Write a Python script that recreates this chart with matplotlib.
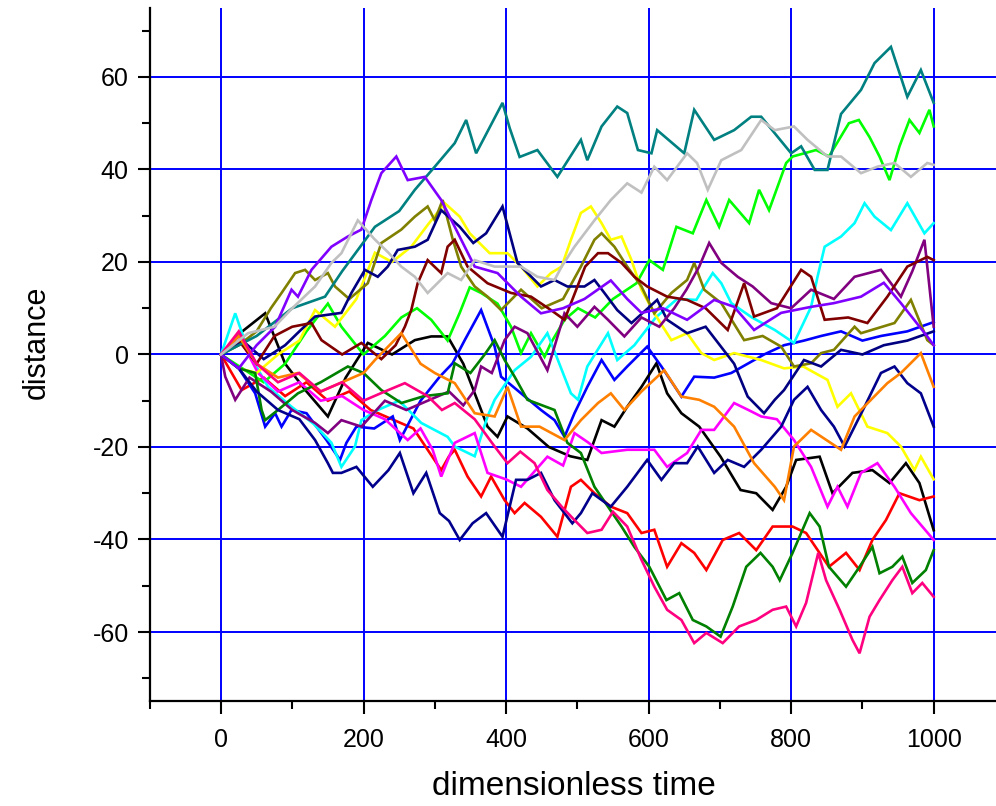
import matplotlib
matplotlib.use("Agg")
import matplotlib.pyplot as plt
from matplotlib.ticker import MultipleLocator

# ---- data (time, distance) ----
black_t = [0, 30, 62, 90, 120, 150, 175, 206, 240, 272, 295, 318, 340, 360, 374, 388, 402, 430, 460, 490, 514, 534, 552, 570, 590, 611, 626, 646, 671, 701, 729, 751, 774, 793, 807, 840, 858, 886, 914, 938, 961, 980, 1000]
black_v = [0, 5, 8.9, -2, -8, -13.4, -5, 2.5, 0, 3.1, 3.9, 3.9, -2, -10, -15.6, -17.8, -13.4, -16, -20, -22, -22.8, -14.2, -15.6, -11.3, -7, -1.9, -8.4, -12.7, -15.6, -22.1, -29.3, -30, -33.6, -28.6, -22.8, -22.1, -30, -25.6, -25, -27.8, -23.5, -27.8, -38]

red_t = [0, 29, 60, 90, 120, 150, 180, 210, 240, 270, 290, 309, 320, 328, 346, 365, 379, 398, 412, 426, 449, 472, 491, 505, 524, 547, 570, 590, 608, 626, 646, 664, 681, 704, 727, 751, 774, 802, 821, 853, 877, 896, 914, 933, 952, 980, 1000]
red_v = [0, -7.7, -5, -9, -6, -10, -8, -12, -14, -16, -20.6, -25, -22, -20.6, -26.4, -30.7, -26.4, -31.5, -34.3, -32.1, -35.1, -39.4, -28.6, -27.1, -30, -32.9, -34.3, -38.6, -37.9, -45.9, -40.8, -42.9, -46.6, -40.1, -38.6, -42.3, -37.2, -37.2, -38.6, -45.9, -42.9, -46.6, -40.1, -35.8, -30, -31.5, -30.7]

green_t = [0, 30, 60, 90, 120, 150, 169, 200, 230, 253, 275, 295, 318, 335, 349, 365, 388, 407, 421, 435, 454, 463, 482, 501, 525, 550, 583, 601, 620, 639, 662, 681, 699, 713, 741, 755, 769, 793, 802, 835, 853, 881, 895, 910, 924, 938, 952, 966, 980, 994, 1000]
green_v = [0, -3, -6, -2, 5, 11, 6, 0, 4, 8, 10, 7.5, 3, 9, 14.5, 13.3, 11, 6, 0.3, 4.6, -0.5, 2.5, 7.5, 10, 8, 12, 15.4, 20.4, 18.3, 27.6, 26.2, 33.4, 27.6, 33.4, 28.4, 35.6, 31.2, 41.4, 42.8, 44.2, 42.8, 50, 50.7, 47, 42.8, 37.7, 45, 50.7, 47.9, 52.9, 49.3]

blue_t = [0, 25, 48, 62, 76, 85, 99, 120, 148, 167, 176, 190, 215, 241, 251, 280, 307, 325, 342, 365, 384, 393, 421, 449, 468, 482, 496, 514, 534, 552, 570, 598, 618, 646, 664, 692, 716, 739, 762, 790, 818, 842, 870, 900, 926, 963, 1000]
blue_v = [0, -3, -8.4, -15.6, -12.7, -15.6, -12, -12.7, -18.5, -22.8, -19.1, -15.6, -16, -13.4, -18.5, -10, -4.8, -1.9, 3.1, 9.6, 1.7, -4.8, -8.4, -12, -14.2, -17.8, -12.7, -7, -1.2, -5.5, -2.6, 1.7, -2.6, -9.1, -4.8, -5, -4, -2, 0, 2, 3, 4, 5, 3, 4, 5, 7]

cyan_t = [0, 20, 40, 66, 99, 130, 155, 169, 188, 197, 220, 250, 281, 318, 328, 356, 374, 384, 412, 435, 458, 491, 501, 514, 543, 556, 580, 610, 640, 667, 681, 690, 702, 716, 745, 777, 804, 828, 837, 847, 870, 889, 903, 917, 940, 963, 987, 1000]
cyan_v = [0, 8.9, 0, -7, -11.3, -15, -19.1, -24.3, -19.9, -14.2, -12, -10, -14.8, -17.8, -19.9, -22, -13.4, -9.8, -3.4, -0.5, 4.6, -8.4, -9.8, -2.6, 4.6, -1.2, 2, 8, 12, 11.8, 15.4, 17.6, 15.4, 11.1, 8, 5.3, 2.5, 10.3, 16.8, 23.3, 25.5, 28.4, 32.7, 29.8, 26.9, 32.7, 26.2, 28.4]

magenta_t = [0, 25, 52, 80, 110, 140, 170, 200, 230, 262, 280, 297, 309, 328, 356, 374, 400, 421, 458, 480, 496, 515, 534, 570, 608, 626, 654, 674, 692, 720, 740, 758, 780, 804, 828, 851, 865, 879, 898, 921, 945, 968, 1000]
magenta_v = [0, 4, -4, -8, -6, -10, -9, -12, -14, -18.5, -16, -20.6, -26.4, -19.1, -17, -25.6, -27, -28.6, -22.1, -24, -17, -19, -21.3, -20.6, -20.6, -24.3, -21.3, -16.3, -16.3, -10.5, -12, -13.4, -14, -18.5, -24.3, -32.9, -28.6, -32.9, -25.6, -23.5, -28.6, -34.3, -40.1]

yellow_t = [0, 25, 50, 80, 110, 132, 160, 190, 216, 240, 267, 290, 314, 335, 349, 377, 402, 421, 444, 463, 478, 491, 505, 519, 534, 547, 562, 576, 590, 608, 632, 654, 674, 692, 720, 758, 790, 817, 851, 865, 884, 907, 935, 954, 973, 982, 1000]
yellow_v = [0, -3, -4, 0, 3, 9.6, 6, 12, 22, 20, 23.3, 28, 32.7, 29.8, 26.2, 21.9, 21.9, 19, 14.7, 17.6, 19, 24.8, 30.6, 32, 28.4, 24.8, 25.5, 20.4, 14, 8.9, 3.1, 4.6, 0.3, -1.2, 0.3, -1.2, -3, -2.6, -5.5, -11.3, -8.4, -15.6, -17, -19.9, -25, -22.1, -27]

olive_t = [0, 25, 50, 70, 85, 104, 118, 132, 150, 160, 180, 206, 225, 253, 272, 290, 300, 311, 325, 337, 356, 374, 393, 421, 450, 480, 505, 524, 534, 552, 570, 590, 608, 632, 654, 664, 678, 702, 734, 760, 786, 804, 828, 842, 860, 889, 898, 945, 968, 991, 1000]
olive_v = [0, 2, 5, 10, 13.3, 17.6, 18.3, 16.1, 17.6, 14.7, 12, 15.4, 24.1, 27, 29.8, 32, 29, 33.4, 25, 19, 14.7, 12.5, 9.6, 14, 10, 12, 19, 24.8, 26.2, 23.3, 19, 14.7, 8.9, 13.3, 16.1, 19.8, 14, 11.1, 3.1, 4, 1.7, -2.6, -1.9, 0.3, 1, 6, 4.6, 6.8, 11.8, 3.1, 2]

navy_t = [0, 30, 60, 90, 110, 132, 169, 183, 202, 220, 234, 248, 272, 290, 309, 335, 354, 372, 395, 416, 449, 468, 486, 510, 524, 538, 556, 576, 612, 626, 654, 680, 700, 720, 739, 762, 777, 790, 818, 842, 870, 900, 930, 963, 1000]
navy_v = [0, 3, -1, 2, 5, 8.2, 9, 13.3, 18.3, 16.8, 19, 22.6, 23.3, 24.8, 31.2, 27.6, 24.1, 26.2, 32, 19.8, 14.7, 16.1, 14.7, 14.7, 16.1, 13.3, 9.6, 6.8, 11.8, 7.5, 4.6, 6, 2, -2, -9.1, -12.7, -9.8, -7.7, -1.2, -2.6, 1, 0, 2, 3, 5]

purple_t = [0, 6, 20, 40, 70, 100, 132, 150, 169, 197, 230, 260, 290, 320, 340, 356, 365, 380, 398, 412, 430, 458, 482, 500, 524, 543, 566, 590, 615, 636, 653, 671, 685, 702, 725, 746, 772, 800, 828, 860, 889, 926, 954, 970, 987, 1000]
purple_v = [0, -4.8, -9.8, -5, -8, -12, -14.8, -17, -14.2, -15.6, -10, -12, -10, -8, -11, -7.7, -2.6, -4, 3.1, 6, 4.6, -3.4, 8.9, 6, 10.3, 7.5, 3.9, 8, 6, 10, 14, 19, 24.1, 19.8, 16.8, 14.7, 11.1, 10, 14, 12, 16.8, 18.3, 12.5, 18, 24.8, 6]

wine_t = [0, 25, 50, 75, 100, 127, 141, 170, 197, 225, 245, 258, 267, 276, 290, 309, 318, 328, 346, 374, 407, 435, 463, 482, 511, 529, 543, 562, 580, 598, 626, 654, 680, 711, 734, 748, 780, 814, 828, 847, 880, 907, 935, 963, 991, 1000]
wine_v = [0, 3, -2, 4, 6, 6.8, 3.1, 0, 2.5, -1, 2, 6, 9.6, 15.4, 20.4, 17.6, 23.3, 24.8, 19, 15.4, 13.3, 12.5, 9.6, 7.5, 19, 21.9, 21.9, 19.8, 16.8, 14.7, 12.5, 11.8, 10, 5.3, 15.4, 8.2, 10, 18.3, 16.8, 7.5, 8, 6.8, 12.5, 19, 21.1, 20.4]

dgreen_t = [0, 25, 48, 57, 62, 80, 108, 140, 178, 200, 225, 253, 285, 318, 328, 350, 370, 384, 398, 412, 430, 468, 486, 505, 524, 543, 562, 580, 601, 625, 643, 662, 681, 701, 718, 737, 757, 774, 784, 802, 826, 840, 853, 877, 896, 914, 924, 942, 956, 970, 989, 1000]
dgreen_v = [0, -3, -4, -12, -14.2, -12, -8.4, -6, -2.6, -4, -7.7, -10.5, -9, -8.4, -1.9, -4, 0, 3.1, -1.2, -4.8, -9.8, -12, -19.1, -21.3, -28.6, -32.9, -37.2, -41.6, -45.9, -53.1, -51.6, -57.4, -58.8, -61, -54.5, -45.9, -42.9, -45.9, -48.8, -42.9, -34.3, -37.2, -45.9, -50.2, -45.9, -41.6, -47.3, -45.9, -43.7, -49.4, -46.6, -42.3]

teal_t = [0, 50, 100, 146, 170, 216, 250, 272, 300, 328, 344, 358, 395, 405, 419, 444, 472, 505, 514, 534, 556, 570, 585, 604, 612, 650, 664, 692, 720, 744, 758, 800, 814, 833, 851, 870, 898, 917, 940, 963, 982, 1000]
teal_v = [0, 4, 10, 12.5, 18, 27.6, 31, 35.6, 40.6, 45.7, 50.7, 43.5, 54.4, 49, 42.7, 44.2, 38.4, 46.4, 42, 49.3, 53.6, 52.2, 44.2, 43.5, 48.5, 43.5, 52.9, 46.4, 48.5, 51.4, 51.4, 43.5, 45, 39.9, 39.9, 52, 57.2, 63, 66.5, 55.7, 61.5, 54.4]

royal_t = [0, 25, 50, 80, 110, 132, 150, 157, 169, 190, 213, 235, 251, 270, 288, 307, 320, 335, 353, 372, 395, 414, 430, 449, 468, 493, 505, 521, 547, 570, 598, 618, 636, 654, 669, 692, 711, 734, 758, 786, 804, 823, 842, 860, 875, 889, 903, 926, 945, 963, 982, 1000]
royal_v = [0, -3, -8, -12, -14, -18.5, -23.5, -25.6, -25.6, -24.3, -28.6, -25, -21.3, -30, -25.6, -34.3, -36, -40.1, -36.5, -34.3, -39.4, -27.1, -27.1, -25.6, -31.5, -36.5, -34.3, -30, -32.9, -28.6, -22.8, -27.1, -23.5, -23.5, -19.9, -25.6, -22.8, -24.3, -20.6, -15.6, -9.8, -7, -12, -15.6, -19.9, -15.6, -11.3, -4, -2.6, -6.2, -8.4, -15.6]

orange_t = [0, 25, 50, 80, 108, 140, 170, 200, 216, 253, 280, 300, 328, 356, 384, 402, 421, 447, 482, 505, 529, 547, 566, 590, 622, 646, 671, 692, 720, 748, 777, 790, 804, 828, 870, 889, 935, 954, 982, 1000]
orange_v = [0, 4, -2, -5, -4, -8, -6, -4, -1.2, 4.6, -2, -4, -6.2, -12.7, -13.4, -7, -15.6, -15.6, -18.5, -14.2, -10.5, -8.4, -12, -8, -3.4, -9.1, -9.8, -11.3, -15.6, -23.5, -28.6, -31.5, -19.9, -16.3, -20.6, -13.4, -6.2, -4, 0.3, -7]

violet_t = [0, 25, 50, 76, 99, 108, 127, 155, 178, 197, 211, 225, 246, 262, 286, 309, 328, 356, 388, 421, 449, 480, 510, 547, 570, 590, 620, 654, 692, 720, 748, 786, 828, 860, 898, 930, 954, 991, 1000]
violet_v = [0, -3, 2, 6, 14, 12.5, 18.3, 23.3, 25.5, 27, 33.4, 39.2, 42.8, 37.7, 38.4, 33.4, 27.6, 19, 17.6, 12.5, 8.9, 10, 12, 16, 12, 9, 10, 7.5, 11.8, 10.3, 5.3, 9, 10.3, 11.1, 12.5, 15.5, 11.1, 3.9, 2]

pink_t = [0, 25, 50, 80, 110, 140, 170, 200, 230, 258, 290, 310, 328, 356, 384, 402, 420, 440, 458, 478, 496, 514, 534, 550, 570, 590, 608, 626, 646, 664, 681, 704, 727, 751, 774, 793, 807, 821, 838, 849, 868, 886, 896, 910, 924, 942, 956, 970, 984, 1000]
pink_v = [0, 5, -2, -6, -4, -8, -6, -10, -8, -6.2, -9, -12, -10.5, -14, -19.9, -23.5, -21, -23.5, -29.3, -32.9, -35.8, -38.6, -37.9, -34, -37.2, -44.4, -50.2, -55.2, -57.4, -62.4, -60.2, -62.4, -58.8, -57.4, -55.2, -54.5, -58.8, -53.7, -42.9, -48.8, -55.2, -61.7, -64.6, -56.7, -53.1, -48.8, -45.9, -51.6, -49.4, -52.4]

gray_t = [0, 38, 75, 100, 132, 155, 169, 192, 215, 235, 253, 272, 290, 318, 337, 356, 384, 421, 444, 468, 478, 496, 524, 547, 570, 590, 608, 626, 654, 668, 683, 702, 730, 758, 777, 804, 823, 851, 870, 898, 921, 945, 968, 991, 1000]
gray_v = [0, 4.6, 6, 10, 14.7, 19.8, 21.9, 29, 25, 22, 19, 16.8, 13.3, 17.6, 16.1, 20.4, 19, 19, 16.8, 16.1, 19, 23.3, 29, 33.4, 37, 35, 40.6, 37.7, 43.5, 41.4, 35.6, 42, 44.2, 50.7, 48.5, 49.3, 46.4, 42.8, 42.8, 39.2, 40.6, 41.4, 38.4, 41.4, 41]

series = [
    (black_t, black_v, "#000000"),
    (red_t, red_v, "#ff0000"),
    (green_t, green_v, "#00ff00"),
    (blue_t, blue_v, "#0000ff"),
    (cyan_t, cyan_v, "#00ffff"),
    (magenta_t, magenta_v, "#ff00ff"),
    (yellow_t, yellow_v, "#ffff00"),
    (olive_t, olive_v, "#808000"),
    (navy_t, navy_v, "#000080"),
    (purple_t, purple_v, "#800080"),
    (wine_t, wine_v, "#800000"),
    (dgreen_t, dgreen_v, "#008000"),
    (teal_t, teal_v, "#008080"),
    (royal_t, royal_v, "#00008c"),
    (orange_t, orange_v, "#ff8000"),
    (violet_t, violet_v, "#8000ff"),
    (pink_t, pink_v, "#ff0080"),
    (gray_t, gray_v, "#c0c0c0"),
]

x_ticks = [0, 200, 400, 600, 800, 1000]
y_ticks = [-60, -40, -20, 0, 20, 40, 60]

plt.rcParams["font.family"] = ["Liberation Sans", "DejaVu Sans"]
plt.rcParams["axes.unicode_minus"] = False

fig = plt.figure(figsize=(9.96, 8.06), dpi=100)
ax = fig.add_axes([0.1503, 0.1298, 0.8587, 0.8608])

for t, v, c in series:
    ax.plot(t, v, color=c, lw=1.9, solid_joinstyle="miter", zorder=3)

ax.set_xlim(-100, 1100)
ax.set_ylim(-75, 75)
ax.set_xticks(x_ticks)
ax.set_yticks(y_ticks)
ax.xaxis.set_minor_locator(MultipleLocator(100))
ax.yaxis.set_minor_locator(MultipleLocator(10))
ax.grid(True, which="major", color="#0000ff", lw=1.4, zorder=1)
ax.set_axisbelow(True)
for s in ["top", "right"]:
    ax.spines[s].set_visible(False)
for s in ["left", "bottom"]:
    ax.spines[s].set_linewidth(1.6)
ax.tick_params(which="major", direction="out", length=9, width=1.5, labelsize=18)
ax.tick_params(axis="x", which="major", pad=10)
ax.tick_params(axis="y", which="major", pad=6)
ax.tick_params(which="minor", direction="out", length=5.5, width=1.5)
ax.set_xlabel("dimensionless time", fontsize=24)
ax.set_ylabel("distance", fontsize=22)
ax.xaxis.set_label_coords(0.4955, -0.100)
ax.yaxis.set_label_coords(-0.115, 0.518)

fig.savefig("out.png", dpi=100)
